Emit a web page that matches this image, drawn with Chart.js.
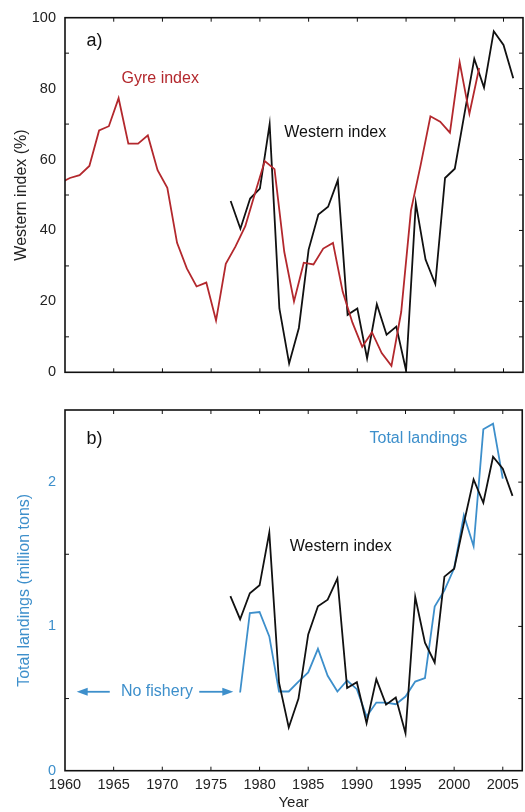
<!DOCTYPE html>
<html lang="en">
<head>
<meta charset="UTF-8">
<title>Western index, gyre index and total landings</title>
<script src="https://cdn.jsdelivr.net/npm/chart.js"></script>
<style>
  body { margin: 0; background: #fff; }
  canvas { display: block; }
</style>
</head>
<body>
<canvas id="panelA" width="525" height="390"></canvas>
<canvas id="panelB" width="525" height="422"></canvas>
<script>
// data
var westYears = [1977,1978,1979,1980,1981,1982,1983,1984,1985,1986,1987,1988,1989,1990,1991,
                 1992,1993,1994,1995,1996,1997,1998,1999,2000,2001,2002,2003,2004,2005,2006];
var westIndex = [48.3,40.5,49.0,51.8,70.0,18.0,2.5,12.5,34.6,44.5,46.7,54.2,16.2,18.0,3.9,
                 19.2,10.6,12.9,0.5,47.7,31.8,24.9,54.8,57.4,73.0,88.4,80.3,96.2,92.3,82.9];
// western index as plotted against the landings axis (panel b)
var westOnLandings = [1.21,1.05,1.23,1.285,1.65,0.61,0.30,0.50,0.945,1.14,1.185,1.333,0.573,0.613,0.329,
                      0.635,0.458,0.507,0.26,1.204,0.888,0.75,1.345,1.40,1.715,2.019,1.857,2.176,2.094,1.905];

var gyreYears = [1959.5,1960.5,1961.5,1962.5,1963.5,1964.5,1965.5,1966.5,1967.5,1968.5,1969.5,
                 1970.5,1971.5,1972.5,1973.5,1974.5,1975.5,1976.5,1977.5,1978.5,1979.5,1980.5,
                 1981.5,1982.5,1983.5,1984.5,1985.5,1986.5,1987.5,1988.5,1989.5,1990.5,1991.5,
                 1992.5,1993.5,1994.5,1995.5,1996.5,1997.5,1998.5,1999.5,2000.5,2001.5,2002.5];
var gyreIndex = [53.4,54.8,55.6,58.2,68.2,69.4,77.3,64.5,64.5,66.8,57.0,
                 52.0,36.5,29.3,24.2,25.3,14.6,30.6,35.5,41.2,50.5,59.6,
                 57.3,34.0,20.0,30.9,30.4,34.9,36.5,22.7,14.0,7.2,11.3,
                 5.4,1.8,17.0,45.6,58.5,72.2,70.7,67.6,87.4,72.9,85.8];

var landYears = [1978,1979,1980,1981,1982,1983,1984,1985,1986,1987,1988,1989,1990,1991,
                 1992,1993,1994,1995,1996,1997,1998,1999,2000,2001,2002,2003,2004,2005];
var landings  = [0.542,1.093,1.10,0.931,0.549,0.549,0.618,0.681,0.845,0.658,0.549,0.625,0.565,0.375,
                 0.472,0.472,0.461,0.514,0.618,0.642,1.137,1.25,1.403,1.771,1.556,2.366,2.405,2.024];

var xTickLabels = [1960,1965,1970,1975,1980,1985,1990,1995,2000,2005];

var RED = '#b3282d', BLUE = '#3d8fcb', BLACK = '#111111';
Chart.defaults.font.family = "'Liberation Sans', Arial, Helvetica, sans-serif";
Chart.defaults.color = '#222';

function pts(xs, ys) {
    return xs.map(function (v, i) { return { x: v, y: ys[i] }; });
}

function lineSet(data, color) {
    return { data: data, borderColor: color, borderWidth: 1.8, pointRadius: 0,
             tension: 0, fill: false, clip: 0 };
}

// box round the plot plus inward tick marks
function framePlugin(leftTick) {
    return {
        id: 'frame',
        afterDatasetsDraw: function (chart) {
            var ctx = chart.ctx, a = chart.chartArea, x = chart.scales.x, y = chart.scales.y;
            ctx.save();
            ctx.strokeStyle = BLACK;
            ctx.lineWidth = 1;
            ctx.beginPath();
            x.ticks.forEach(function (t) {
                if (xTickLabels.indexOf(t.value) < 0 || t.value === x.min) return;
                var px = x.getPixelForValue(t.value);
                ctx.moveTo(px, a.bottom); ctx.lineTo(px, a.bottom - 4);
                ctx.moveTo(px, a.top); ctx.lineTo(px, a.top + 4);
            });
            y.ticks.forEach(function (t) {
                if (t.value === y.min || t.value === y.max) return;
                var py = y.getPixelForValue(t.value);
                ctx.moveTo(a.right, py); ctx.lineTo(a.right - 4, py);
                if (leftTick(t.value)) { ctx.moveTo(a.left, py); ctx.lineTo(a.left + 4, py); }
            });
            ctx.stroke();
            ctx.lineWidth = 1.6;
            ctx.strokeRect(a.left, a.top, a.right - a.left, a.bottom - a.top);
            ctx.restore();
        }
    };
}

// text labels placed in data units
function labelPlugin(labels, arrows) {
    return {
        id: 'labels',
        afterDatasetsDraw: function (chart) {
            var ctx = chart.ctx, x = chart.scales.x, y = chart.scales.y;
            ctx.save();
            ctx.textBaseline = 'middle';
            ctx.textAlign = 'left';
            labels.forEach(function (l) {
                ctx.font = l.size + "px 'Liberation Sans', Arial, sans-serif";
                ctx.fillStyle = l.color;
                ctx.fillText(l.text, x.getPixelForValue(l.x), y.getPixelForValue(l.y));
            });
            (arrows || []).forEach(function (ar) {
                var x0 = x.getPixelForValue(ar.from), x1 = x.getPixelForValue(ar.to);
                var py = y.getPixelForValue(ar.y), dir = x1 > x0 ? 1 : -1;
                ctx.strokeStyle = ar.color; ctx.fillStyle = ar.color; ctx.lineWidth = 1.8;
                ctx.beginPath(); ctx.moveTo(x0, py); ctx.lineTo(x1 - dir * 8, py); ctx.stroke();
                ctx.beginPath();
                ctx.moveTo(x1, py);
                ctx.lineTo(x1 - dir * 11, py - 4);
                ctx.lineTo(x1 - dir * 11, py + 4);
                ctx.closePath(); ctx.fill();
            });
            ctx.restore();
        }
    };
}

function xAxis(showLabels, height) {
    return {
        type: 'linear', min: 1960, max: 2007,
        grid: { display: false, drawTicks: false }, border: { display: false },
        ticks: { display: showLabels, stepSize: 5, includeBounds: false, autoSkip: false,
                 maxRotation: 0, padding: 6, color: '#222', font: { size: 14.5 },
                 callback: function (v) { return xTickLabels.indexOf(v) >= 0 ? String(v) : ''; } },
        title: { display: showLabels, text: 'Year', color: '#222', font: { size: 15 },
                 padding: { top: 0, bottom: 0 } },
        afterFit: function (s) { s.height = height; }
    };
}

// panel a
new Chart(document.getElementById('panelA'), {
    type: 'line',
    data: { datasets: [ lineSet(pts(gyreYears, gyreIndex), RED),
                        lineSet(pts(westYears, westIndex), BLACK) ] },
    options: {
        responsive: false, animation: false, devicePixelRatio: 1,
        layout: { padding: { top: 14, right: 2, left: 0, bottom: 0 } },
        plugins: { legend: { display: false }, tooltip: { enabled: false } },
        scales: {
            x: xAxis(false, 16),
            y: {
                min: 0, max: 100,
                grid: { display: false, drawTicks: false }, border: { display: false },
                ticks: { stepSize: 10, padding: 9, color: '#222', font: { size: 14.5 },
                         callback: function (v) { return v % 20 === 0 ? String(v) : ''; } },
                title: { display: true, text: 'Western index (%)', color: '#222',
                         font: { size: 16 }, padding: { top: 12, bottom: 0 } },
                afterFit: function (s) { s.width = 65; }
            }
        }
    },
    plugins: [
        framePlugin(function (v) { return v % 20 !== 0; }),
        labelPlugin([
            { text: 'a)', x: 1962.2, y: 93.3, color: BLACK, size: 18 },
            { text: 'Gyre index', x: 1965.8, y: 82.8, color: RED, size: 16 },
            { text: 'Western index', x: 1982.5, y: 67.5, color: BLACK, size: 16 }
        ])
    ]
});

// panel b
new Chart(document.getElementById('panelB'), {
    type: 'line',
    data: { datasets: [ lineSet(pts(westYears, westOnLandings), BLACK),
                        lineSet(pts(landYears, landings), BLUE) ] },
    options: {
        responsive: false, animation: false, devicePixelRatio: 1,
        layout: { padding: { top: 20, right: 2, left: 0, bottom: 0 } },
        plugins: { legend: { display: false }, tooltip: { enabled: false } },
        scales: {
            x: xAxis(true, 41.3),
            y: {
                min: 0, max: 2.5,
                grid: { display: false, drawTicks: false }, border: { display: false },
                ticks: { stepSize: 0.5, padding: 9, color: BLUE, font: { size: 14.5 },
                         callback: function (v) { return v % 1 === 0 ? String(v) : ''; } },
                title: { display: true, text: 'Total landings (million tons)', color: BLUE,
                         font: { size: 16 }, padding: { top: 15, bottom: 0 } },
                afterFit: function (s) { s.width = 65; }
            }
        }
    },
    plugins: [
        framePlugin(function (v) { return v % 1 !== 0; }),
        labelPlugin([
            { text: 'b)', x: 1962.2, y: 2.30, color: BLACK, size: 18 },
            { text: 'Total landings', x: 1991.3, y: 2.30, color: BLUE, size: 16 },
            { text: 'Western index', x: 1983.1, y: 1.553, color: BLACK, size: 16 },
            { text: 'No fishery', x: 1965.75, y: 0.547, color: BLUE, size: 16 }
        ], [
            { from: 1964.6, to: 1961.2, y: 0.547, color: BLUE },
            { from: 1973.8, to: 1977.3, y: 0.547, color: BLUE }
        ])
    ]
});
</script>
</body>
</html>
